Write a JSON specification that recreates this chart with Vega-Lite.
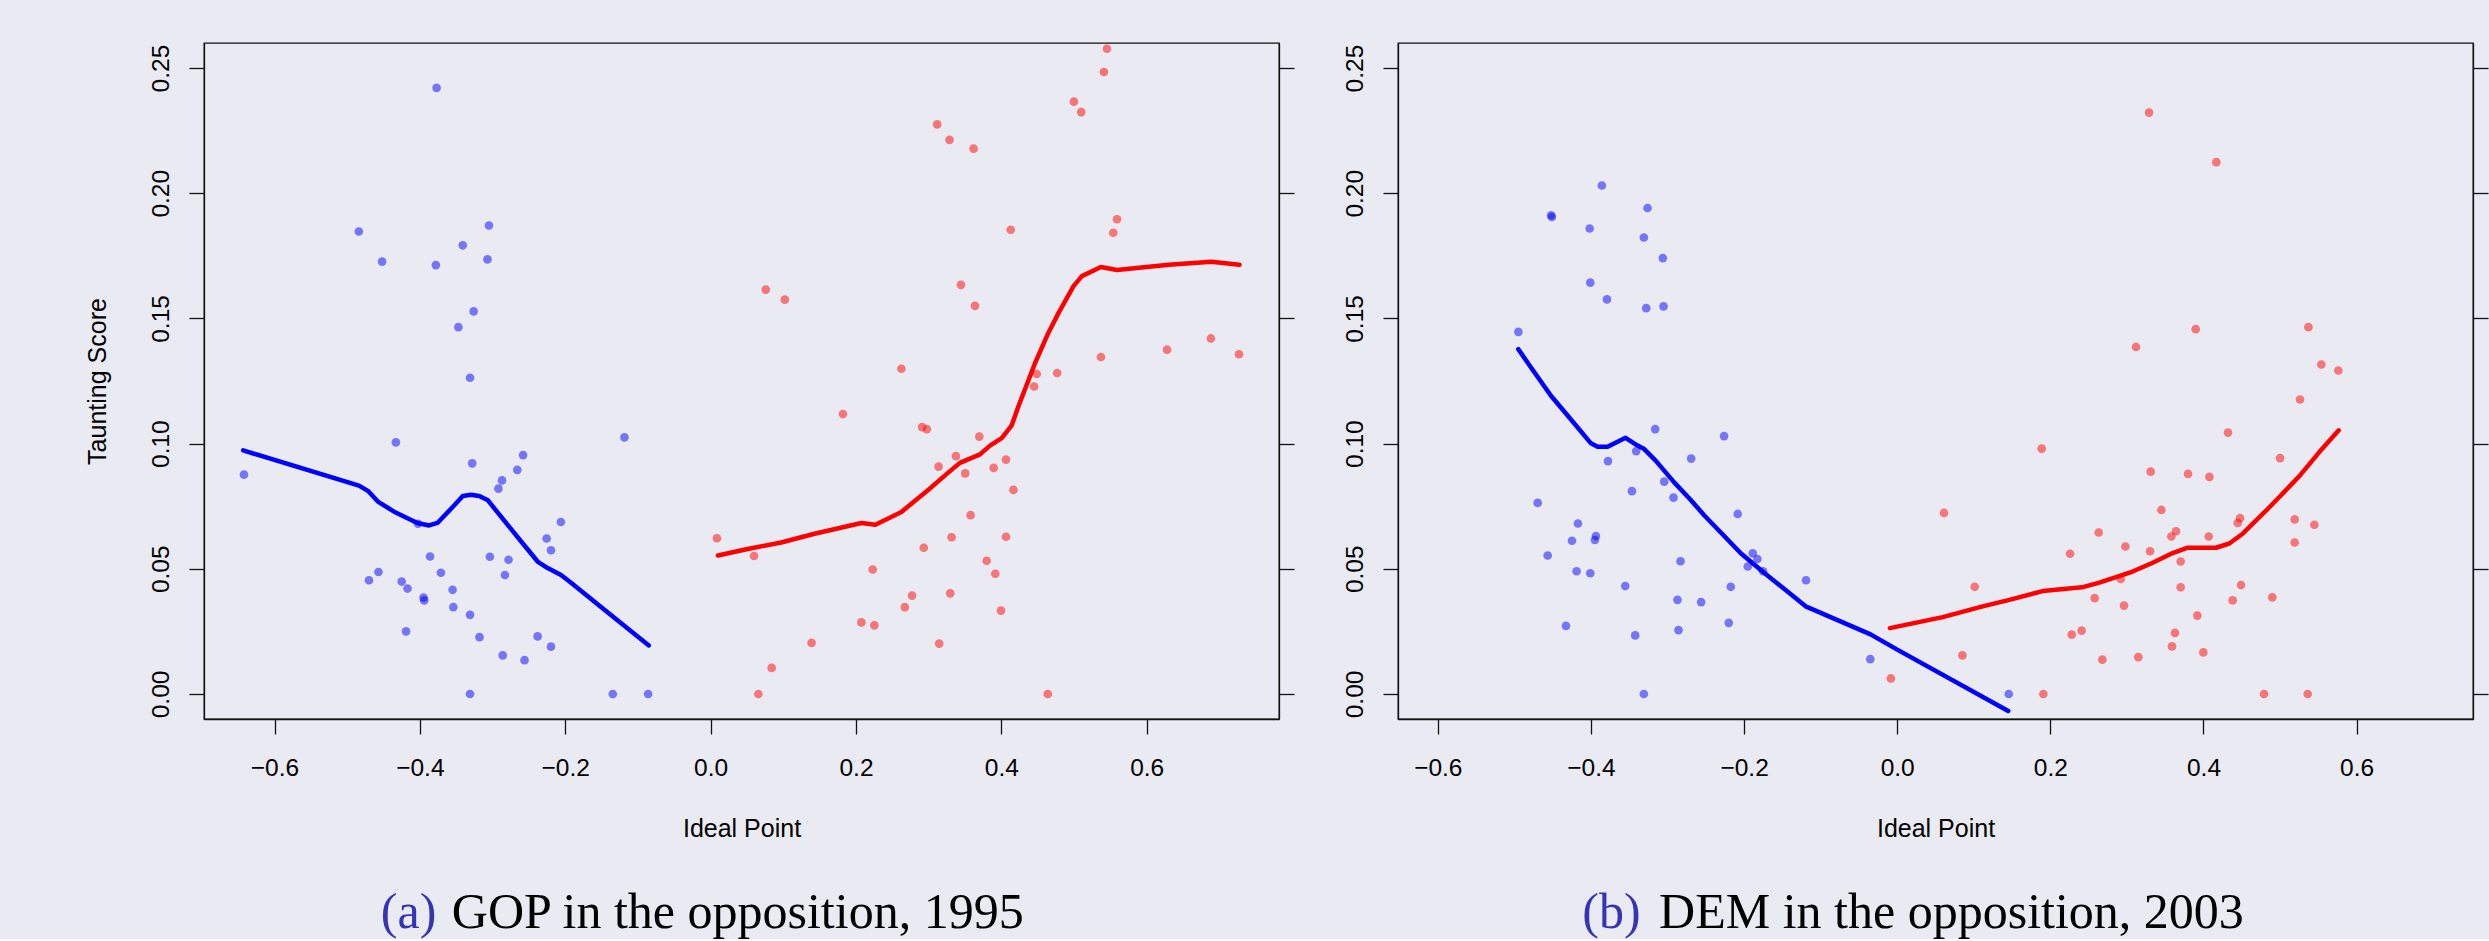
{
  "$schema": "https://vega.github.io/schema/vega-lite/v6.json",
  "background": "#EAEAF2",
  "padding": {"left": 84, "top": 42, "right": 0, "bottom": 0},
  "spacing": 119,
  "bounds": "flush",
  "config": {
    "view": {"stroke": "#111111", "strokeWidth": 1.3},
    "axis": {"grid": false, "domainColor": "#111111", "domainWidth": 1.3, "tickColor": "#111111", "tickWidth": 1.3, "tickSize": 15,
      "labelFont": "Liberation Sans", "labelFontSize": 24.5, "labelColor": "black", "titleFont": "Liberation Sans", "titleFontSize": 25,
      "titleFontWeight": "normal", "titleColor": "black", "labelFlush": false, "labelOverlap": false, "labelBound": false}
  },
  "datasets": {
    "a_pts": [
      {"ideal": -0.377, "taunt": 0.2421, "party": "Democrat"},
      {"ideal": -0.484, "taunt": 0.1847, "party": "Democrat"},
      {"ideal": -0.305, "taunt": 0.1871, "party": "Democrat"},
      {"ideal": -0.341, "taunt": 0.1792, "party": "Democrat"},
      {"ideal": -0.452, "taunt": 0.1727, "party": "Democrat"},
      {"ideal": -0.378, "taunt": 0.1713, "party": "Democrat"},
      {"ideal": -0.307, "taunt": 0.1736, "party": "Democrat"},
      {"ideal": -0.326, "taunt": 0.1528, "party": "Democrat"},
      {"ideal": -0.347, "taunt": 0.1465, "party": "Democrat"},
      {"ideal": -0.331, "taunt": 0.1263, "party": "Democrat"},
      {"ideal": -0.433, "taunt": 0.1005, "party": "Democrat"},
      {"ideal": -0.1185, "taunt": 0.1025, "party": "Democrat"},
      {"ideal": -0.642, "taunt": 0.0876, "party": "Democrat"},
      {"ideal": -0.328, "taunt": 0.0921, "party": "Democrat"},
      {"ideal": -0.258, "taunt": 0.0954, "party": "Democrat"},
      {"ideal": -0.266, "taunt": 0.0895, "party": "Democrat"},
      {"ideal": -0.287, "taunt": 0.0853, "party": "Democrat"},
      {"ideal": -0.292, "taunt": 0.082, "party": "Democrat"},
      {"ideal": -0.4025, "taunt": 0.068, "party": "Democrat"},
      {"ideal": -0.206, "taunt": 0.0687, "party": "Democrat"},
      {"ideal": -0.2256, "taunt": 0.0621, "party": "Democrat"},
      {"ideal": -0.2196, "taunt": 0.0574, "party": "Democrat"},
      {"ideal": -0.386, "taunt": 0.0549, "party": "Democrat"},
      {"ideal": -0.3037, "taunt": 0.0548, "party": "Democrat"},
      {"ideal": -0.278, "taunt": 0.0536, "party": "Democrat"},
      {"ideal": -0.283, "taunt": 0.0475, "party": "Democrat"},
      {"ideal": -0.371, "taunt": 0.0484, "party": "Democrat"},
      {"ideal": -0.457, "taunt": 0.0487, "party": "Democrat"},
      {"ideal": -0.47, "taunt": 0.0454, "party": "Democrat"},
      {"ideal": -0.425, "taunt": 0.0449, "party": "Democrat"},
      {"ideal": -0.417, "taunt": 0.0421, "party": "Democrat"},
      {"ideal": -0.355, "taunt": 0.0416, "party": "Democrat"},
      {"ideal": -0.395, "taunt": 0.0385, "party": "Democrat"},
      {"ideal": -0.394, "taunt": 0.0374, "party": "Democrat"},
      {"ideal": -0.354, "taunt": 0.0347, "party": "Democrat"},
      {"ideal": -0.331, "taunt": 0.0316, "party": "Democrat"},
      {"ideal": -0.419, "taunt": 0.025, "party": "Democrat"},
      {"ideal": -0.318, "taunt": 0.0227, "party": "Democrat"},
      {"ideal": -0.238, "taunt": 0.023, "party": "Democrat"},
      {"ideal": -0.2196, "taunt": 0.0189, "party": "Democrat"},
      {"ideal": -0.286, "taunt": 0.0154, "party": "Democrat"},
      {"ideal": -0.256, "taunt": 0.0135, "party": "Democrat"},
      {"ideal": -0.331, "taunt": 0, "party": "Democrat"},
      {"ideal": -0.1346, "taunt": 0, "party": "Democrat"},
      {"ideal": -0.086, "taunt": 0, "party": "Democrat"},
      {"ideal": 0.5453, "taunt": 0.2577, "party": "Republican"},
      {"ideal": 0.5411, "taunt": 0.2484, "party": "Republican"},
      {"ideal": 0.4998, "taunt": 0.2366, "party": "Republican"},
      {"ideal": 0.5099, "taunt": 0.2324, "party": "Republican"},
      {"ideal": 0.3117, "taunt": 0.2275, "party": "Republican"},
      {"ideal": 0.3287, "taunt": 0.2213, "party": "Republican"},
      {"ideal": 0.3618, "taunt": 0.2178, "party": "Republican"},
      {"ideal": 0.4129, "taunt": 0.1854, "party": "Republican"},
      {"ideal": 0.5591, "taunt": 0.1896, "party": "Republican"},
      {"ideal": 0.554, "taunt": 0.1842, "party": "Republican"},
      {"ideal": 0.0759, "taunt": 0.1615, "party": "Republican"},
      {"ideal": 0.1021, "taunt": 0.1575, "party": "Republican"},
      {"ideal": 0.3444, "taunt": 0.1634, "party": "Republican"},
      {"ideal": 0.3637, "taunt": 0.155, "party": "Republican"},
      {"ideal": 0.6883, "taunt": 0.142, "party": "Republican"},
      {"ideal": 0.628, "taunt": 0.1375, "party": "Republican"},
      {"ideal": 0.537, "taunt": 0.1346, "party": "Republican"},
      {"ideal": 0.727, "taunt": 0.1357, "party": "Republican"},
      {"ideal": 0.4487, "taunt": 0.1278, "party": "Republican"},
      {"ideal": 0.4768, "taunt": 0.1282, "party": "Republican"},
      {"ideal": 0.4451, "taunt": 0.1228, "party": "Republican"},
      {"ideal": 0.2625, "taunt": 0.1299, "party": "Republican"},
      {"ideal": 0.1821, "taunt": 0.1118, "party": "Republican"},
      {"ideal": 0.291, "taunt": 0.1066, "party": "Republican"},
      {"ideal": 0.2975, "taunt": 0.1058, "party": "Republican"},
      {"ideal": 0.3697, "taunt": 0.1028, "party": "Republican"},
      {"ideal": 0.3375, "taunt": 0.095, "party": "Republican"},
      {"ideal": 0.3136, "taunt": 0.0908, "party": "Republican"},
      {"ideal": 0.3503, "taunt": 0.0881, "party": "Republican"},
      {"ideal": 0.3894, "taunt": 0.0903, "party": "Republican"},
      {"ideal": 0.4064, "taunt": 0.0936, "party": "Republican"},
      {"ideal": 0.4166, "taunt": 0.0815, "party": "Republican"},
      {"ideal": 0.3577, "taunt": 0.0714, "party": "Republican"},
      {"ideal": 0.0087, "taunt": 0.0622, "party": "Republican"},
      {"ideal": 0.0598, "taunt": 0.0551, "party": "Republican"},
      {"ideal": 0.2933, "taunt": 0.0584, "party": "Republican"},
      {"ideal": 0.3315, "taunt": 0.0626, "party": "Republican"},
      {"ideal": 0.4064, "taunt": 0.0628, "party": "Republican"},
      {"ideal": 0.3798, "taunt": 0.0532, "party": "Republican"},
      {"ideal": 0.3917, "taunt": 0.048, "party": "Republican"},
      {"ideal": 0.223, "taunt": 0.0497, "party": "Republican"},
      {"ideal": 0.2772, "taunt": 0.0393, "party": "Republican"},
      {"ideal": 0.2671, "taunt": 0.0347, "party": "Republican"},
      {"ideal": 0.3297, "taunt": 0.0402, "party": "Republican"},
      {"ideal": 0.3995, "taunt": 0.0333, "party": "Republican"},
      {"ideal": 0.2074, "taunt": 0.0286, "party": "Republican"},
      {"ideal": 0.2253, "taunt": 0.0274, "party": "Republican"},
      {"ideal": 0.1389, "taunt": 0.0204, "party": "Republican"},
      {"ideal": 0.3145, "taunt": 0.0201, "party": "Republican"},
      {"ideal": 0.084, "taunt": 0.0104, "party": "Republican"},
      {"ideal": 0.0657, "taunt": 0, "party": "Republican"},
      {"ideal": 0.4639, "taunt": 0, "party": "Republican"}
    ],
    "a_fit": [
      {"ideal": -0.6432, "taunt": 0.0973, "party": "Democrat"},
      {"ideal": -0.4838, "taunt": 0.0832, "party": "Democrat"},
      {"ideal": -0.4709, "taunt": 0.081, "party": "Democrat"},
      {"ideal": -0.4571, "taunt": 0.0767, "party": "Democrat"},
      {"ideal": -0.4355, "taunt": 0.0728, "party": "Democrat"},
      {"ideal": -0.4034, "taunt": 0.0683, "party": "Democrat"},
      {"ideal": -0.3873, "taunt": 0.0673, "party": "Democrat"},
      {"ideal": -0.3758, "taunt": 0.0683, "party": "Democrat"},
      {"ideal": -0.3574, "taunt": 0.0739, "party": "Democrat"},
      {"ideal": -0.3409, "taunt": 0.0791, "party": "Democrat"},
      {"ideal": -0.3299, "taunt": 0.0796, "party": "Democrat"},
      {"ideal": -0.3184, "taunt": 0.0791, "party": "Democrat"},
      {"ideal": -0.3069, "taunt": 0.0775, "party": "Democrat"},
      {"ideal": -0.2839, "taunt": 0.0692, "party": "Democrat"},
      {"ideal": -0.2609, "taunt": 0.061, "party": "Democrat"},
      {"ideal": -0.238, "taunt": 0.0529, "party": "Democrat"},
      {"ideal": -0.2242, "taunt": 0.0503, "party": "Democrat"},
      {"ideal": -0.2058, "taunt": 0.0475, "party": "Democrat"},
      {"ideal": -0.192, "taunt": 0.0444, "party": "Democrat"},
      {"ideal": -0.1461, "taunt": 0.0336, "party": "Democrat"},
      {"ideal": -0.085, "taunt": 0.0194, "party": "Democrat"},
      {"ideal": 0.01, "taunt": 0.0553, "party": "Republican"},
      {"ideal": 0.051, "taunt": 0.0579, "party": "Republican"},
      {"ideal": 0.097, "taunt": 0.0605, "party": "Republican"},
      {"ideal": 0.143, "taunt": 0.064, "party": "Republican"},
      {"ideal": 0.2074, "taunt": 0.0683, "party": "Republican"},
      {"ideal": 0.2267, "taunt": 0.0676, "party": "Republican"},
      {"ideal": 0.2625, "taunt": 0.0727, "party": "Republican"},
      {"ideal": 0.2993, "taunt": 0.0815, "party": "Republican"},
      {"ideal": 0.3269, "taunt": 0.0884, "party": "Republican"},
      {"ideal": 0.343, "taunt": 0.0923, "party": "Republican"},
      {"ideal": 0.3706, "taunt": 0.0957, "party": "Republican"},
      {"ideal": 0.3844, "taunt": 0.0992, "party": "Republican"},
      {"ideal": 0.4005, "taunt": 0.1022, "party": "Republican"},
      {"ideal": 0.4143, "taunt": 0.1073, "party": "Republican"},
      {"ideal": 0.4234, "taunt": 0.1148, "party": "Republican"},
      {"ideal": 0.4464, "taunt": 0.1322, "party": "Republican"},
      {"ideal": 0.4648, "taunt": 0.1443, "party": "Republican"},
      {"ideal": 0.4786, "taunt": 0.1521, "party": "Republican"},
      {"ideal": 0.4993, "taunt": 0.1629, "party": "Republican"},
      {"ideal": 0.5108, "taunt": 0.1669, "party": "Republican"},
      {"ideal": 0.537, "taunt": 0.1705, "party": "Republican"},
      {"ideal": 0.5591, "taunt": 0.1693, "party": "Republican"},
      {"ideal": 0.6303, "taunt": 0.1714, "party": "Republican"},
      {"ideal": 0.6887, "taunt": 0.1726, "party": "Republican"},
      {"ideal": 0.7277, "taunt": 0.1714, "party": "Republican"}
    ],
    "b_pts": [
      {"ideal": -0.3857, "taunt": 0.2031, "party": "Democrat"},
      {"ideal": -0.3261, "taunt": 0.1941, "party": "Democrat"},
      {"ideal": -0.452, "taunt": 0.1912, "party": "Democrat"},
      {"ideal": -0.451, "taunt": 0.1905, "party": "Democrat"},
      {"ideal": -0.4017, "taunt": 0.1859, "party": "Democrat"},
      {"ideal": -0.3309, "taunt": 0.1823, "party": "Democrat"},
      {"ideal": -0.3061, "taunt": 0.1741, "party": "Democrat"},
      {"ideal": -0.4009, "taunt": 0.1643, "party": "Democrat"},
      {"ideal": -0.3791, "taunt": 0.1576, "party": "Democrat"},
      {"ideal": -0.3278, "taunt": 0.1541, "party": "Democrat"},
      {"ideal": -0.3052, "taunt": 0.1548, "party": "Democrat"},
      {"ideal": -0.4948, "taunt": 0.1446, "party": "Democrat"},
      {"ideal": -0.3161, "taunt": 0.1058, "party": "Democrat"},
      {"ideal": -0.2261, "taunt": 0.103, "party": "Democrat"},
      {"ideal": -0.3409, "taunt": 0.097, "party": "Democrat"},
      {"ideal": -0.3778, "taunt": 0.093, "party": "Democrat"},
      {"ideal": -0.2691, "taunt": 0.094, "party": "Democrat"},
      {"ideal": -0.3043, "taunt": 0.0848, "party": "Democrat"},
      {"ideal": -0.3465, "taunt": 0.081, "party": "Democrat"},
      {"ideal": -0.2922, "taunt": 0.0784, "party": "Democrat"},
      {"ideal": -0.4696, "taunt": 0.0763, "party": "Democrat"},
      {"ideal": -0.2083, "taunt": 0.0719, "party": "Democrat"},
      {"ideal": -0.417, "taunt": 0.0681, "party": "Democrat"},
      {"ideal": -0.3935, "taunt": 0.0631, "party": "Democrat"},
      {"ideal": -0.3948, "taunt": 0.0615, "party": "Democrat"},
      {"ideal": -0.4248, "taunt": 0.0612, "party": "Democrat"},
      {"ideal": -0.4565, "taunt": 0.0553, "party": "Democrat"},
      {"ideal": -0.4187, "taunt": 0.049, "party": "Democrat"},
      {"ideal": -0.4009, "taunt": 0.0482, "party": "Democrat"},
      {"ideal": -0.283, "taunt": 0.053, "party": "Democrat"},
      {"ideal": -0.1887, "taunt": 0.0562, "party": "Democrat"},
      {"ideal": -0.1826, "taunt": 0.0539, "party": "Democrat"},
      {"ideal": -0.1952, "taunt": 0.0509, "party": "Democrat"},
      {"ideal": -0.1752, "taunt": 0.049, "party": "Democrat"},
      {"ideal": -0.1191, "taunt": 0.0454, "party": "Democrat"},
      {"ideal": -0.3552, "taunt": 0.0431, "party": "Democrat"},
      {"ideal": -0.2174, "taunt": 0.0428, "party": "Democrat"},
      {"ideal": -0.287, "taunt": 0.0376, "party": "Democrat"},
      {"ideal": -0.2561, "taunt": 0.0367, "party": "Democrat"},
      {"ideal": -0.4326, "taunt": 0.0272, "party": "Democrat"},
      {"ideal": -0.3422, "taunt": 0.0234, "party": "Democrat"},
      {"ideal": -0.2857, "taunt": 0.0255, "party": "Democrat"},
      {"ideal": -0.22, "taunt": 0.0284, "party": "Democrat"},
      {"ideal": -0.0352, "taunt": 0.0139, "party": "Democrat"},
      {"ideal": -0.3309, "taunt": 0, "party": "Democrat"},
      {"ideal": 0.1457, "taunt": 0, "party": "Democrat"},
      {"ideal": 0.3289, "taunt": 0.2322, "party": "Republican"},
      {"ideal": 0.4168, "taunt": 0.2124, "party": "Republican"},
      {"ideal": 0.3898, "taunt": 0.1457, "party": "Republican"},
      {"ideal": 0.3119, "taunt": 0.1386, "party": "Republican"},
      {"ideal": 0.537, "taunt": 0.1465, "party": "Republican"},
      {"ideal": 0.5539, "taunt": 0.1316, "party": "Republican"},
      {"ideal": 0.5761, "taunt": 0.1292, "party": "Republican"},
      {"ideal": 0.5261, "taunt": 0.1176, "party": "Republican"},
      {"ideal": 0.432, "taunt": 0.1044, "party": "Republican"},
      {"ideal": 0.1887, "taunt": 0.098, "party": "Republican"},
      {"ideal": 0.5, "taunt": 0.0942, "party": "Republican"},
      {"ideal": 0.331, "taunt": 0.0888, "party": "Republican"},
      {"ideal": 0.3798, "taunt": 0.0879, "party": "Republican"},
      {"ideal": 0.4077, "taunt": 0.0867, "party": "Republican"},
      {"ideal": 0.0611, "taunt": 0.0723, "party": "Republican"},
      {"ideal": 0.345, "taunt": 0.0735, "party": "Republican"},
      {"ideal": 0.4477, "taunt": 0.0702, "party": "Republican"},
      {"ideal": 0.4447, "taunt": 0.0683, "party": "Republican"},
      {"ideal": 0.5191, "taunt": 0.0697, "party": "Republican"},
      {"ideal": 0.5448, "taunt": 0.0676, "party": "Republican"},
      {"ideal": 0.2631, "taunt": 0.0645, "party": "Republican"},
      {"ideal": 0.3641, "taunt": 0.065, "party": "Republican"},
      {"ideal": 0.358, "taunt": 0.0629, "party": "Republican"},
      {"ideal": 0.4068, "taunt": 0.0629, "party": "Republican"},
      {"ideal": 0.5191, "taunt": 0.0605, "party": "Republican"},
      {"ideal": 0.2257, "taunt": 0.056, "party": "Republican"},
      {"ideal": 0.298, "taunt": 0.0589, "party": "Republican"},
      {"ideal": 0.3302, "taunt": 0.057, "party": "Republican"},
      {"ideal": 0.3702, "taunt": 0.0529, "party": "Republican"},
      {"ideal": 0.2919, "taunt": 0.0459, "party": "Republican"},
      {"ideal": 0.1012, "taunt": 0.0428, "party": "Republican"},
      {"ideal": 0.3702, "taunt": 0.0426, "party": "Republican"},
      {"ideal": 0.449, "taunt": 0.0435, "party": "Republican"},
      {"ideal": 0.2579, "taunt": 0.0383, "party": "Republican"},
      {"ideal": 0.2962, "taunt": 0.0353, "party": "Republican"},
      {"ideal": 0.4381, "taunt": 0.0374, "party": "Republican"},
      {"ideal": 0.4899, "taunt": 0.0386, "party": "Republican"},
      {"ideal": 0.392, "taunt": 0.0313, "party": "Republican"},
      {"ideal": 0.2279, "taunt": 0.0237, "party": "Republican"},
      {"ideal": 0.2409, "taunt": 0.0253, "party": "Republican"},
      {"ideal": 0.3628, "taunt": 0.0244, "party": "Republican"},
      {"ideal": 0.3589, "taunt": 0.019, "party": "Republican"},
      {"ideal": 0.3998, "taunt": 0.0166, "party": "Republican"},
      {"ideal": 0.0851, "taunt": 0.0154, "party": "Republican"},
      {"ideal": 0.2679, "taunt": 0.0137, "party": "Republican"},
      {"ideal": 0.3149, "taunt": 0.0147, "party": "Republican"},
      {"ideal": 0.1909, "taunt": 0, "party": "Republican"},
      {"ideal": 0.4791, "taunt": 0, "party": "Republican"},
      {"ideal": 0.5361, "taunt": 0, "party": "Republican"},
      {"ideal": -0.0083, "taunt": 0.0062, "party": "Republican"}
    ],
    "b_fit": [
      {"ideal": -0.4948, "taunt": 0.1377, "party": "Democrat"},
      {"ideal": -0.4783, "taunt": 0.1304, "party": "Democrat"},
      {"ideal": -0.4522, "taunt": 0.1191, "party": "Democrat"},
      {"ideal": -0.4261, "taunt": 0.1096, "party": "Democrat"},
      {"ideal": -0.4, "taunt": 0.1001, "party": "Democrat"},
      {"ideal": -0.3913, "taunt": 0.0987, "party": "Democrat"},
      {"ideal": -0.3783, "taunt": 0.0987, "party": "Democrat"},
      {"ideal": -0.3548, "taunt": 0.1023, "party": "Democrat"},
      {"ideal": -0.3391, "taunt": 0.0992, "party": "Democrat"},
      {"ideal": -0.3304, "taunt": 0.0978, "party": "Democrat"},
      {"ideal": -0.3152, "taunt": 0.0931, "party": "Democrat"},
      {"ideal": -0.2913, "taunt": 0.0845, "party": "Democrat"},
      {"ideal": -0.2696, "taunt": 0.0775, "party": "Democrat"},
      {"ideal": -0.2522, "taunt": 0.0714, "party": "Democrat"},
      {"ideal": -0.2304, "taunt": 0.0645, "party": "Democrat"},
      {"ideal": -0.2043, "taunt": 0.0562, "party": "Democrat"},
      {"ideal": -0.1739, "taunt": 0.0484, "party": "Democrat"},
      {"ideal": -0.1478, "taunt": 0.042, "party": "Democrat"},
      {"ideal": -0.1196, "taunt": 0.035, "party": "Democrat"},
      {"ideal": -0.087, "taunt": 0.0307, "party": "Democrat"},
      {"ideal": -0.0348, "taunt": 0.0238, "party": "Democrat"},
      {"ideal": 0.0, "taunt": 0.0177, "party": "Democrat"},
      {"ideal": 0.145, "taunt": -0.0068, "party": "Democrat"},
      {"ideal": -0.0096, "taunt": 0.0263, "party": "Republican"},
      {"ideal": 0.0594, "taunt": 0.0307, "party": "Republican"},
      {"ideal": 0.1116, "taunt": 0.035, "party": "Republican"},
      {"ideal": 0.1465, "taunt": 0.0376, "party": "Republican"},
      {"ideal": 0.19, "taunt": 0.0411, "party": "Republican"},
      {"ideal": 0.2414, "taunt": 0.0426, "party": "Republican"},
      {"ideal": 0.264, "taunt": 0.0445, "party": "Republican"},
      {"ideal": 0.3075, "taunt": 0.0489, "party": "Republican"},
      {"ideal": 0.3337, "taunt": 0.0524, "party": "Republican"},
      {"ideal": 0.3598, "taunt": 0.0563, "party": "Republican"},
      {"ideal": 0.3794, "taunt": 0.0584, "party": "Republican"},
      {"ideal": 0.4164, "taunt": 0.0584, "party": "Republican"},
      {"ideal": 0.4338, "taunt": 0.0601, "party": "Republican"},
      {"ideal": 0.4512, "taunt": 0.064, "party": "Republican"},
      {"ideal": 0.4817, "taunt": 0.0732, "party": "Republican"},
      {"ideal": 0.5252, "taunt": 0.087, "party": "Republican"},
      {"ideal": 0.5513, "taunt": 0.0966, "party": "Republican"},
      {"ideal": 0.5766, "taunt": 0.1053, "party": "Republican"}
    ]
  },
  "hconcat": [
    {
      "width": 1075,
      "height": 676,
      "layer": [
        {
          "data": {"name": "a_pts"},
          "mark": {"type": "circle", "size": 75, "opacity": 0.5},
          "encoding": {
            "x": {"field": "ideal", "type": "quantitative", "scale": {"domain": [-0.697, 0.782], "nice": false, "zero": false},
              "axis": {"values": [-0.6, -0.4, -0.2, 0, 0.2, 0.4, 0.6], "format": ".1f", "labelBaseline": "alphabetic", "labelPadding": 41,
                "title": "Ideal Point", "titleBaseline": "alphabetic", "titleY": 117}},
            "y": {"field": "taunt", "type": "quantitative", "scale": {"domain": [-0.01, 0.26], "nice": false, "zero": false},
              "axis": {"values": [0, 0.05, 0.1, 0.15, 0.2, 0.25], "format": ".2f", "labelAngle": 270, "labelAlign": "center", "labelBaseline": "alphabetic",
                "labelPadding": 20.5, "title": "Taunting Score", "titleAngle": 270, "titleAlign": "center", "titleBaseline": "alphabetic", "titleX": -99, "titleY": 338}},
            "color": {"field": "party", "type": "nominal", "scale": {"domain": ["Democrat", "Republican"], "range": ["#0000FF", "#FF0000"]}, "legend": null}
          }
        },
        {
          "data": {"name": "a_fit"},
          "mark": {"type": "line", "strokeWidth": 4.5, "strokeCap": "round", "strokeJoin": "round"},
          "encoding": {
            "x": {"field": "ideal", "type": "quantitative", "scale": {"domain": [-0.697, 0.782], "nice": false, "zero": false},
              "axis": {"values": [-0.6, -0.4, -0.2, 0, 0.2, 0.4, 0.6], "format": ".1f", "labelBaseline": "alphabetic", "labelPadding": 41,
                "title": "Ideal Point", "titleBaseline": "alphabetic", "titleY": 117}},
            "y": {"field": "taunt", "type": "quantitative", "scale": {"domain": [-0.01, 0.26], "nice": false, "zero": false},
              "axis": {"orient": "right", "values": [0, 0.05, 0.1, 0.15, 0.2, 0.25], "labels": false, "title": null}},
            "color": {"field": "party", "type": "nominal", "scale": {"domain": ["Democrat", "Republican"], "range": ["#0000FF", "#FF0000"]}, "legend": null}
          }
        },
        {
          "data": {"values": [{"label": "(a)"}]},
          "mark": {"type": "text", "align": "right", "baseline": "alphabetic", "font": "Liberation Serif", "fontSize": 50, "color": "#3434B4"},
          "encoding": {
            "text": {"field": "label"},
            "x": {"datum": -0.3773, "type": "quantitative", "scale": {"domain": [-0.697, 0.782], "nice": false, "zero": false},
              "axis": {"values": [-0.6, -0.4, -0.2, 0, 0.2, 0.4, 0.6], "format": ".1f", "labelBaseline": "alphabetic", "labelPadding": 41,
                "title": "Ideal Point", "titleBaseline": "alphabetic", "titleY": 117}},
            "y": {"datum": -0.0934, "type": "quantitative", "scale": {"domain": [-0.01, 0.26], "nice": false, "zero": false}, "axis": null}
          }
        },
        {
          "data": {"values": [{"label": "GOP in the opposition, 1995"}]},
          "mark": {"type": "text", "align": "left", "baseline": "alphabetic", "font": "Liberation Serif", "fontSize": 50, "color": "black"},
          "encoding": {
            "text": {"field": "label"},
            "x": {"datum": -0.356, "type": "quantitative", "scale": {"domain": [-0.697, 0.782], "nice": false, "zero": false},
              "axis": {"values": [-0.6, -0.4, -0.2, 0, 0.2, 0.4, 0.6], "format": ".1f", "labelBaseline": "alphabetic", "labelPadding": 41,
                "title": "Ideal Point", "titleBaseline": "alphabetic", "titleY": 117}},
            "y": {"datum": -0.0934, "type": "quantitative", "scale": {"domain": [-0.01, 0.26], "nice": false, "zero": false}, "axis": null}
          }
        }
      ],
      "resolve": {"axis": {"y": "independent"}}
    },
    {
      "width": 1075,
      "height": 676,
      "layer": [
        {
          "data": {"name": "b_pts"},
          "mark": {"type": "circle", "size": 75, "opacity": 0.5},
          "encoding": {
            "x": {"field": "ideal", "type": "quantitative", "scale": {"domain": [-0.652, 0.752], "nice": false, "zero": false},
              "axis": {"values": [-0.6, -0.4, -0.2, 0, 0.2, 0.4, 0.6], "format": ".1f", "labelBaseline": "alphabetic", "labelPadding": 41,
                "title": "Ideal Point", "titleBaseline": "alphabetic", "titleY": 117}},
            "y": {"field": "taunt", "type": "quantitative", "scale": {"domain": [-0.01, 0.26], "nice": false, "zero": false},
              "axis": {"values": [0, 0.05, 0.1, 0.15, 0.2, 0.25], "format": ".2f", "labelAngle": 270, "labelAlign": "center", "labelBaseline": "alphabetic",
                "labelPadding": 20.5, "title": null}},
            "color": {"field": "party", "type": "nominal", "scale": {"domain": ["Democrat", "Republican"], "range": ["#0000FF", "#FF0000"]}, "legend": null}
          }
        },
        {
          "data": {"name": "b_fit"},
          "mark": {"type": "line", "strokeWidth": 4.5, "strokeCap": "round", "strokeJoin": "round"},
          "encoding": {
            "x": {"field": "ideal", "type": "quantitative", "scale": {"domain": [-0.652, 0.752], "nice": false, "zero": false},
              "axis": {"values": [-0.6, -0.4, -0.2, 0, 0.2, 0.4, 0.6], "format": ".1f", "labelBaseline": "alphabetic", "labelPadding": 41,
                "title": "Ideal Point", "titleBaseline": "alphabetic", "titleY": 117}},
            "y": {"field": "taunt", "type": "quantitative", "scale": {"domain": [-0.01, 0.26], "nice": false, "zero": false},
              "axis": {"orient": "right", "values": [0, 0.05, 0.1, 0.15, 0.2, 0.25], "labels": false, "title": null}},
            "color": {"field": "party", "type": "nominal", "scale": {"domain": ["Democrat", "Republican"], "range": ["#0000FF", "#FF0000"]}, "legend": null}
          }
        },
        {
          "data": {"values": [{"label": "(b)"}]},
          "mark": {"type": "text", "align": "right", "baseline": "alphabetic", "font": "Liberation Serif", "fontSize": 50, "color": "#3434B4"},
          "encoding": {
            "text": {"field": "label"},
            "x": {"datum": -0.3352, "type": "quantitative", "scale": {"domain": [-0.652, 0.752], "nice": false, "zero": false},
              "axis": {"values": [-0.6, -0.4, -0.2, 0, 0.2, 0.4, 0.6], "format": ".1f", "labelBaseline": "alphabetic", "labelPadding": 41,
                "title": "Ideal Point", "titleBaseline": "alphabetic", "titleY": 117}},
            "y": {"datum": -0.0934, "type": "quantitative", "scale": {"domain": [-0.01, 0.26], "nice": false, "zero": false}, "axis": null}
          }
        },
        {
          "data": {"values": [{"label": "DEM in the opposition, 2003"}]},
          "mark": {"type": "text", "align": "left", "baseline": "alphabetic", "font": "Liberation Serif", "fontSize": 50, "color": "black"},
          "encoding": {
            "text": {"field": "label"},
            "x": {"datum": -0.311, "type": "quantitative", "scale": {"domain": [-0.652, 0.752], "nice": false, "zero": false},
              "axis": {"values": [-0.6, -0.4, -0.2, 0, 0.2, 0.4, 0.6], "format": ".1f", "labelBaseline": "alphabetic", "labelPadding": 41,
                "title": "Ideal Point", "titleBaseline": "alphabetic", "titleY": 117}},
            "y": {"datum": -0.0934, "type": "quantitative", "scale": {"domain": [-0.01, 0.26], "nice": false, "zero": false}, "axis": null}
          }
        }
      ],
      "resolve": {"axis": {"y": "independent"}}
    }
  ]
}
